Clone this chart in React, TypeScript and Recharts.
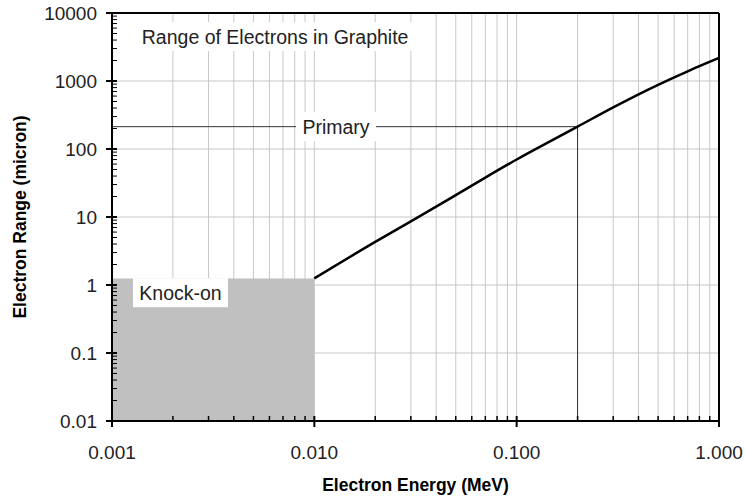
import React from "react";
import {
  LineChart,
  Line,
  XAxis,
  YAxis,
  CartesianGrid,
  ReferenceArea,
  ReferenceLine,
  ReferenceDot,
} from "recharts";

// electron range curve (MeV -> micron)
const energies = [0.01, 0.02, 0.03, 0.05, 0.07, 0.1, 0.2, 0.3, 0.5, 0.7, 1.0];
const ranges = [1.25, 4.3, 8.6, 21, 38, 70, 213, 410, 880, 1390, 2180];

// knock-on region and primary marker
const knockOnEnergy = [0.001, 0.01];
const knockOnRange = [0.01, 1.25];
const primaryEnergy = 0.2;
const primaryRange = 213;

const xDecades = [0.001, 0.01, 0.1, 1];
const yDecades = [0.01, 0.1, 1, 10, 100, 1000, 10000];
const minorSteps = [1, 2, 3, 4, 5, 6, 7, 8, 9];

const xTicks = xDecades.slice(0, -1).flatMap((d) => minorSteps.map((m) => m * d)).concat([1]);
const yTicks = yDecades.slice(0, -1).flatMap((d) => minorSteps.map((m) => m * d)).concat([10000]);

const data = energies.map((e, i) => ({ energy: e, range: ranges[i] }));

// annotation anchors (data coords of the text centre)
const titleAt = { x: 0.0064, y: 4500 };
const primaryAt = { x: 0.0128, y: 213 };
const knockOnAt = { x: 0.00218, y: 0.77 };

const FONT = '"Liberation Sans", Arial, sans-serif';

const isMajor = (v: number) => {
  const l = Math.log10(v);
  return Math.abs(l - Math.round(l)) < 1e-9;
};

const XTick = (props: any) => {
  const { x, y, payload } = props;
  const major = isMajor(payload.value);
  return (
    <g>
      <line
        x1={x}
        x2={x}
        y1={y - 5}
        y2={major ? y + 6 : y}
        stroke="#000"
        strokeWidth={major ? 2 : 1.5}
      />
      {major && (
        <text x={x} y={y + 25} dy="0.71em" textAnchor="middle" fontSize={19} fontFamily={FONT} fill="#222">
          {payload.value.toFixed(3)}
        </text>
      )}
    </g>
  );
};

const YTick = (props: any) => {
  const { x, y, payload } = props;
  const major = isMajor(payload.value);
  return (
    <g>
      <line
        x1={major ? x - 6 : x}
        x2={x + 5}
        y1={y}
        y2={y}
        stroke="#000"
        strokeWidth={major ? 2 : 1}
      />
      {major && (
        <text x={x - 15} y={y} dy="0.36em" textAnchor="end" fontSize={19} fontFamily={FONT} fill="#222">
          {String(payload.value)}
        </text>
      )}
    </g>
  );
};

const BoxLabel = ({ viewBox, text, w, h }: any) => {
  const cx = viewBox.x + (viewBox.width || 0) / 2;
  const cy = viewBox.y + (viewBox.height || 0) / 2;
  return (
    <g>
      <rect x={cx - w / 2} y={cy - h / 2} width={w} height={h} fill="#fff" />
      <text x={cx} y={cy} dy="0.36em" textAnchor="middle" fontSize={19.5} fontFamily={FONT} fill="#222">
        {text}
      </text>
    </g>
  );
};

export default function App() {
  return (
    <div style={{ position: "absolute", left: 0, top: 0, background: "#fff" }}>
      <LineChart
        width={747}
        height={497}
        data={data}
        margin={{ top: 13, right: 28, left: 0, bottom: 0 }}
      >
        <CartesianGrid stroke="#c8c8c8" horizontalValues={yDecades} />
        <XAxis
          dataKey="energy"
          type="number"
          scale="log"
          domain={[0.001, 1]}
          allowDataOverflow
          ticks={xTicks}
          interval={0}
          tick={<XTick />}
          tickLine={false}
          tickSize={0}
          tickMargin={0}
          axisLine={{ stroke: "#000", strokeWidth: 2 }}
          height={76}
          label={{
            value: "Electron Energy (MeV)",
            position: "insideBottom",
            offset: 6,
            style: { fontWeight: "bold", fontSize: 17.5, fill: "#000", fontFamily: FONT },
          }}
        />
        <YAxis
          type="number"
          scale="log"
          domain={[0.01, 10000]}
          allowDataOverflow
          ticks={yTicks}
          interval={0}
          tick={<YTick />}
          tickLine={false}
          tickSize={0}
          tickMargin={0}
          axisLine={{ stroke: "#000", strokeWidth: 2 }}
          width={112}
          label={{
            value: "Electron Range (micron)",
            angle: -90,
            position: "insideLeft",
            offset: 20,
            style: { textAnchor: "middle", fontWeight: "bold", fontSize: 17.5, fill: "#000", fontFamily: FONT },
          }}
        />
        <ReferenceArea
          x1={knockOnEnergy[0]}
          x2={knockOnEnergy[1]}
          y1={knockOnRange[0]}
          y2={knockOnRange[1]}
          fill="#c0c0c0"
          fillOpacity={1}
          stroke="none"
          zIndex={-10}
        />
        <ReferenceLine
          segment={[
            { x: 0.001, y: primaryRange },
            { x: primaryEnergy, y: primaryRange },
          ]}
          stroke="#333"
          strokeWidth={1}
        />
        <ReferenceLine
          segment={[
            { x: primaryEnergy, y: 0.01 },
            { x: primaryEnergy, y: primaryRange },
          ]}
          stroke="#333"
          strokeWidth={1}
        />
        {/* plot frame drawn over the shaded region */}
        <ReferenceLine y={10000} stroke="#000" strokeWidth={2} zIndex={600} />
        <ReferenceLine x={1} stroke="#000" strokeWidth={2} zIndex={600} />
        <ReferenceLine y={0.01} stroke="#000" strokeWidth={2} zIndex={600} />
        <ReferenceLine x={0.001} stroke="#000" strokeWidth={2} zIndex={600} />
        <Line
          dataKey="range"
          type="monotone"
          stroke="#000"
          strokeWidth={2.5}
          dot={false}
          isAnimationActive={false}
        />
        <ReferenceDot
          x={titleAt.x}
          y={titleAt.y}
          r={0}
          stroke="none"
          label={(p: any) => <BoxLabel {...p} text="Range of Electrons in Graphite" w={296} h={29} />}
        />
        <ReferenceDot
          x={primaryAt.x}
          y={primaryAt.y}
          r={0}
          stroke="none"
          label={(p: any) => <BoxLabel {...p} text="Primary" w={80} h={29} />}
        />
        <ReferenceDot
          x={knockOnAt.x}
          y={knockOnAt.y}
          r={0}
          stroke="none"
          label={(p: any) => <BoxLabel {...p} text="Knock-on" w={95} h={29} />}
        />
      </LineChart>
    </div>
  );
}
